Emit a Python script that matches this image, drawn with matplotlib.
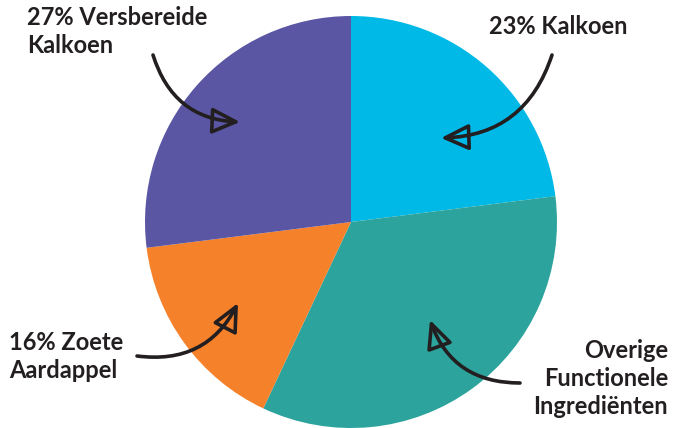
import matplotlib
matplotlib.use("Agg")
import matplotlib.pyplot as plt

labels = ["23% Kalkoen", "Overige\nFunctionele\nIngrediënten", "16% Zoete\nAardappel", "27% Versbereide\nKalkoen"]
values = [23, 34, 16, 27]
colors = ["#00B9E7", "#2CA39C", "#F5812B", "#5A56A4"]

W, H = 673, 428
fig = plt.figure(figsize=(W / 100, H / 100), dpi=100)
ax = fig.add_axes([0, 0, 1, 1])
ax.set_xlim(0, W)
ax.set_ylim(0, H)
ax.set_aspect("equal")
ax.axis("off")

cx, cy, r = 351, H - 222, 206
ax.pie(values, colors=colors, startangle=90, counterclock=False,
       center=(cx, cy), radius=r, wedgeprops=dict(linewidth=0), frame=True)
ax.set_xlim(0, W)
ax.set_ylim(0, H)
ax.axis("off")

tc = "#231F20"
fp = dict(family=["Lato", "DejaVu Sans"], fontweight="bold", fontsize=17, color=tc, linespacing=1.25)

# text placements (image px, y from top)
ax.text(27, H - 6, labels[3], ha="left", va="top", **fp)
ax.text(489, H - 15, labels[0], ha="left", va="top", **fp)
ax.text(9, H - 331, labels[2], ha="left", va="top", **fp)
ax.text(668, H - 339, labels[1], ha="right", va="top", multialignment="right", **fp)

arrows = [
    ((153, 55), (240, 122), 0.35),
    ((552, 55), (441, 138), -0.35),
    ((137, 356), (238, 303), 0.35),
    ((520, 383), (430, 320), -0.35),
]
for (x0, y0), (x1, y1), rad in arrows:
    ax.annotate("", xy=(x1, H - y1), xytext=(x0, H - y0),
                arrowprops=dict(arrowstyle="-|>,head_length=1.7,head_width=0.8",
                                fc="none", ec=tc, lw=2.6, shrinkA=0, shrinkB=0,
                                connectionstyle=f"arc3,rad={rad}",
                                joinstyle="round", capstyle="round"))

fig.savefig("out.png", dpi=100)
